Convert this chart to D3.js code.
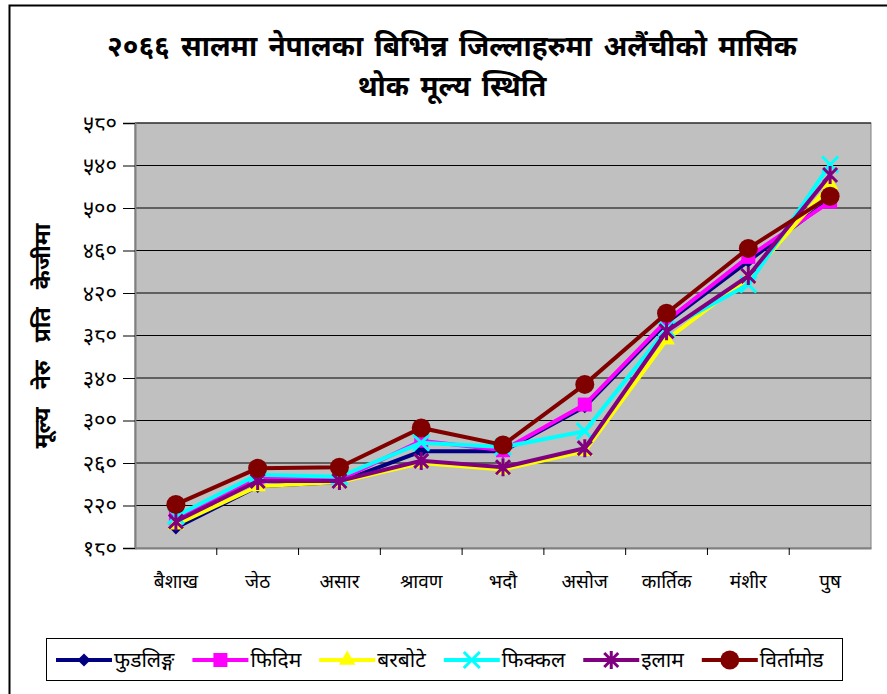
<!DOCTYPE html>
<html lang="ne">
<head>
<meta charset="UTF-8">
<script src="https://d3js.org/d3.v7.min.js"></script>
<title>अलैंची थोक मूल्य</title>
<style>
  body { margin: 0; background: #fff; }
  svg text { font-family: "Noto Sans Devanagari", "Lohit Devanagari", "Noto Sans", "DejaVu Sans", sans-serif; }
</style>
</head>
<body>
<div id="chart"></div>
<script>
// months (x categories)
var months = ["बैशाख", "जेठ", "असार", "श्रावण", "भदौ", "असोज", "कार्तिक", "मंशीर", "पुष"];
// y ticks
var yTicks = [180, 220, 260, 300, 340, 380, 420, 460, 500, 540, 580];

// series names
var seriesNames = ["फुडलिङ्ग", "फिदिम", "बरबोटे", "फिक्कल", "इलाम", "विर्तामोड"];

// values (rs per kg)
var fungling  = [199, 238, 242, 271, 271, 313, 392, 450, 508];
var fidim     = [208, 247, 244, 281, 272, 315, 394, 454, 506];
var barbote   = [202, 238, 242, 260, 254, 271, 376, 434, 522];
var phikkal   = [210, 249, 247, 279, 275, 290, 386, 428, 541];
var ilam      = [205, 243, 243, 262, 256, 274, 384, 436, 531];
var virtamod  = [221, 255, 256, 293, 277, 334, 401, 462, 511];

var allSeries = [fungling, fidim, barbote, phikkal, ilam, virtamod];
var colors = ["#000080", "#FF00FF", "#FFFF00", "#00FFFF", "#800080", "#800000"];
var markers = ["diamond", "square", "triangle", "x", "star", "circle"];

var W = 887, H = 694;
var devDigits = "०१२३४५६७८९";
function toDev(n) { return String(n).replace(/[0-9]/g, function(c) { return devDigits[+c]; }); }

var svg = d3.select("#chart").append("svg")
  .attr("width", W).attr("height", H);

// outer frame
svg.append("rect")
  .attr("x", 9.5).attr("y", 5.5)
  .attr("width", W).attr("height", H)
  .attr("fill", "#fff").attr("stroke", "#000").attr("stroke-width", 2);

var plot = {left: 135, right: 871, top: 123, bottom: 548};

var x = d3.scaleBand().domain(months).range([plot.left, plot.right]).padding(0);
var y = d3.scaleLinear().domain([180, 580]).range([plot.bottom, plot.top]);

// plot background
svg.append("rect")
  .attr("x", plot.left).attr("y", plot.top)
  .attr("width", plot.right - plot.left).attr("height", plot.bottom - plot.top)
  .attr("fill", "#C0C0C0").attr("stroke", "#808080").attr("stroke-width", 1);

// gridlines
svg.append("g")
  .selectAll("line").data(yTicks.slice(1)).enter().append("line")
  .attr("x1", plot.left).attr("x2", plot.right)
  .attr("y1", d => y(d)).attr("y2", d => y(d))
  .attr("stroke", "#000").attr("stroke-width", 1);

// y axis
var yAxis = svg.append("g")
  .attr("transform", "translate(" + plot.left + ",0)")
  .call(d3.axisLeft(y).tickValues(yTicks).tickSize(12).tickPadding(6).tickFormat(toDev));
yAxis.select(".domain").attr("stroke", "#808080").attr("stroke-width", 2);
yAxis.selectAll(".tick line").attr("stroke", "#000");
yAxis.selectAll("text").attr("font-size", 22).attr("fill", "#000");

// x axis
var xAxis = svg.append("g")
  .attr("transform", "translate(0," + plot.bottom + ")")
  .call(d3.axisBottom(x).tickSize(0).tickPadding(27));
xAxis.select(".domain").attr("stroke", "#808080").attr("stroke-width", 2);
xAxis.selectAll("text").attr("font-size", 19).attr("fill", "#000");
// category separators
xAxis.selectAll(".sep").data(months.slice(1)).enter().append("line")
  .attr("x1", d => x(d)).attr("x2", d => x(d))
  .attr("y1", 0).attr("y2", 7).attr("stroke", "#000");

// title
var title = svg.append("text")
  .attr("text-anchor", "middle").attr("font-size", 28).attr("font-weight", "bold")
  .attr("word-spacing", 4);
title.append("tspan").attr("x", 452).attr("y", 56).text("२०६६ सालमा नेपालका बिभिन्न जिल्लाहरुमा अलैंचीको मासिक");
title.append("tspan").attr("x", 452).attr("y", 96).text("थोक मूल्य स्थिति");

// y axis title
svg.append("text")
  .attr("transform", "translate(50,336) rotate(-90)")
  .attr("text-anchor", "middle").attr("font-size", 23).attr("font-weight", "bold")
  .attr("word-spacing", 12)
  .text("मूल्य नेरु प्रति केजीमा");

function drawMarker(g, type, color) {
  if (type === "diamond") {
    g.append("path").attr("d", d3.symbol(d3.symbolDiamond2, 110)()).attr("fill", color);
  } else if (type === "square") {
    g.append("rect").attr("x", -7).attr("y", -7).attr("width", 14).attr("height", 14).attr("fill", color);
  } else if (type === "triangle") {
    g.append("path").attr("d", d3.symbol(d3.symbolTriangle, 120)()).attr("fill", color);
  } else if (type === "x") {
    g.append("path").attr("d", "M-8,-8L8,8M-8,8L8,-8").attr("stroke", color).attr("stroke-width", 3);
  } else if (type === "star") {
    g.append("path").attr("d", "M-7,-7L7,7M-7,7L7,-7M0,-9L0,9").attr("stroke", color).attr("stroke-width", 3);
  } else if (type === "circle") {
    g.append("circle").attr("r", 9.5).attr("fill", color);
  }
}

var line = d3.line().x((d, i) => x(months[i]) + x.bandwidth() / 2).y(d => y(d));

allSeries.forEach(function(vals, si) {
  var g = svg.append("g");
  g.append("path").datum(vals)
    .attr("d", line).attr("fill", "none")
    .attr("stroke", colors[si]).attr("stroke-width", 4);
  vals.forEach(function(v, i) {
    var mg = g.append("g").attr("transform", "translate(" + (x(months[i]) + x.bandwidth() / 2) + "," + y(v) + ")");
    drawMarker(mg, markers[si], colors[si]);
  });
});

// legend
var legend = svg.append("g");
legend.append("rect")
  .attr("x", 46.5).attr("y", 638.5).attr("width", 796).attr("height", 42)
  .attr("fill", "#fff").attr("stroke", "#000").attr("stroke-width", 1);
var lx = 56, ly = 660;
seriesNames.forEach(function(name, si) {
  var item = legend.append("g");
  item.append("line").attr("x1", lx).attr("x2", lx + 56).attr("y1", ly).attr("y2", ly)
    .attr("stroke", colors[si]).attr("stroke-width", 4);
  drawMarker(item.append("g").attr("transform", "translate(" + (lx + 28) + "," + ly + ")"), markers[si], colors[si]);
  var t = item.append("text").attr("x", lx + 58).attr("y", ly + 7).attr("font-size", 21).text(name);
  lx = lx + 58 + t.node().getComputedTextLength() + 18;
});
</script>
</body>
</html>
